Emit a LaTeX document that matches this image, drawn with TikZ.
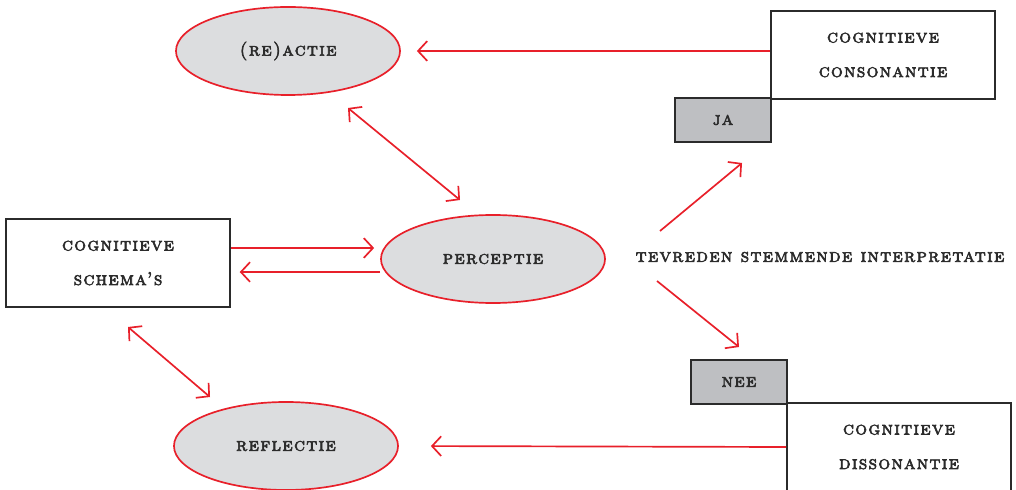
\documentclass[tikz,border=0pt]{standalone}
\usepackage{fontspec}
\usepackage{xcolor}
\usetikzlibrary{arrows.meta, shapes.geometric, positioning}
\newfontfamily\labfont[Extension=.otf, LetterSpace=7, FakeBold=3.2]{lmromancaps10-regular}
\definecolor{diaRed}{HTML}{E8202A}
\definecolor{ovalGray}{HTML}{DCDDDF}
\definecolor{boxGray}{HTML}{BEBFC2}
\definecolor{lineDark}{HTML}{2B2B2B}

\tikzset{
  oval/.style={ellipse, draw=diaRed, fill=ovalGray, line width=1.2pt,
    minimum width=5.6cm, minimum height=2.2cm, inner sep=0pt},
  stage/.style={rectangle, draw=lineDark, fill=white, line width=1.3pt,
    minimum width=5.6cm, minimum height=2.18cm, align=center},
  tag/.style={rectangle, draw=lineDark, fill=boxGray, line width=1.3pt,
    minimum width=2.4cm, minimum height=1.1cm},
  link/.style={draw=diaRed, line width=1.2pt, -{Straight Barb[length=6.5pt, width=14pt]}},
  dualink/.style={link, {Straight Barb[length=6.5pt, width=14pt]}-{Straight Barb[length=6.5pt, width=14pt]}},
}

\begin{document}
\begin{tikzpicture}[x=0.025cm, y=-0.025cm,
    every node/.style={font=\labfont\fontsize{13.2}{24.5}\selectfont, text=lineDark}]
    \useasboundingbox (0,0) rectangle (1016,490);

    % ovals
    \node[oval] (reactie) at (288,51) {(re)actie};
    \node[oval] (perc) at (493,259) {perceptie};
    \node[oval] (refl) at (286,446) {reflectie};

    % boxes
    \node[stage] (schema) at (118,263) {cognitieve\\schema’s};
    \node[stage] (cons) at (883,55) {cognitieve\\consonantie};
    \node[tag] (ja) at (723,120) {ja};
    \node[stage] (diss) at (899,447) {cognitieve\\dissonantie};
    \node[tag] (nee) at (739,382) {nee};

    \node (tev) at (820,257) {tevreden stemmende interpretatie};

    % free ends
    \coordinate (rpA) at (348,108);
    \coordinate (rpB) at (460,200);
    \coordinate (srA) at (128,327);
    \coordinate (srB) at (210,397);
    \coordinate (upA) at (660,231);
    \coordinate (upB) at (742,163);
    \coordinate (dnA) at (657,281);
    \coordinate (dnB) at (739,347);

    % connectors
    \draw[link, shorten >=0.4cm] (cons.west |- reactie.east) -- (reactie.east);
    \draw[link, shorten >=0.8cm] (diss.west) -- (refl.east);
    \draw[link, shorten >=0.15cm] ([yshift=0.375cm]schema.east) -- ([yshift=0.375cm]schema.east -| perc.west);
    \draw[link, shorten >=0.22cm] ([yshift=-0.325cm]perc.west) -- ([yshift=-0.325cm]perc.west -| schema.east);
    \draw[dualink] (rpA) -- (rpB);
    \draw[dualink] (srA) -- (srB);
    \draw[link] (upA) -- (upB);
    \draw[link] (dnA) -- (dnB);
\end{tikzpicture}
\end{document}
